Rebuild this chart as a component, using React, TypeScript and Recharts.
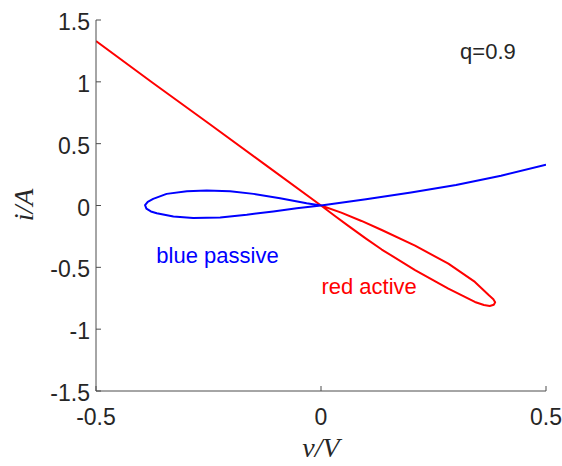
import { LineChart, Line, XAxis, YAxis, ReferenceDot } from "recharts";

// v (V) and i (A) samples, in drawing order
const redV = [-0.5, -0.375, -0.25, -0.125, 0, 0.031, 0.06, 0.1, 0.135, 0.209, 0.283, 0.342, 0.362, 0.375, 0.384, 0.387, 0.383, 0.372, 0.342, 0.283, 0.209, 0.135, 0.09, 0.045, 0];
const redI = [1.33, 0.995, 0.665, 0.333, 0, -0.085, -0.163, -0.268, -0.356, -0.522, -0.672, -0.78, -0.804, -0.812, -0.803, -0.783, -0.758, -0.722, -0.618, -0.47, -0.325, -0.198, -0.125, -0.058, 0];

const blueV = [0.5, 0.4, 0.3, 0.2, 0.1, 0, -0.032, -0.091, -0.15, -0.202, -0.254, -0.298, -0.343, -0.373, -0.385, -0.391, -0.388, -0.378, -0.365, -0.328, -0.284, -0.224, -0.165, -0.106, -0.054, 0];
const blueI = [0.33, 0.24, 0.165, 0.105, 0.05, 0, 0.019, 0.059, 0.094, 0.116, 0.121, 0.116, 0.094, 0.054, 0.03, 0.003, -0.025, -0.048, -0.062, -0.089, -0.102, -0.097, -0.075, -0.048, -0.022, 0];

const xTicks = [-0.5, 0, 0.5];
const yTicks = [-1.5, -1, -0.5, 0, 0.5, 1, 1.5];

const redData = redV.map((v, k) => ({ v, i: redI[k] }));
const blueData = blueV.map((v, k) => ({ v, i: blueI[k] }));

const axisColor = "#4d4d4d";
const textColor = "#262626";
const sans = "'Liberation Sans', Arial, sans-serif";
const serif = "'Liberation Serif', 'Times New Roman', serif";

// MATLAB-style ticks point inward
const BottomTick = (props: any) => (
  <g>
    <line x1={props.x} y1={props.y} x2={props.x} y2={props.y - 5} stroke={axisColor} />
    <text x={props.x} y={props.y + 34} textAnchor="middle" fontSize={23} fontFamily={sans} fill={textColor}>
      {String(props.payload.value)}
    </text>
  </g>
);

const LeftTick = (props: any) => (
  <g>
    <line x1={props.x} y1={props.y} x2={props.x + 5} y2={props.y} stroke={axisColor} />
    <text x={props.x - 6} y={props.y + 10} textAnchor="end" fontSize={23} fontFamily={sans} fill={textColor}>
      {String(props.payload.value)}
    </text>
  </g>
);

const TopTick = (props: any) => (
  <line x1={props.x} y1={props.y} x2={props.x} y2={props.y + 5} stroke={axisColor} />
);

const RightTick = (props: any) => (
  <line x1={props.x} y1={props.y} x2={props.x - 5} y2={props.y} stroke={axisColor} />
);

export default function App() {
  return (
    <div style={{ position: "absolute", left: 0, top: 0, background: "#fff" }}>
      <LineChart width={562} height={466} margin={{ top: 20, right: 16, left: 0, bottom: 0 }}>
        <XAxis
          xAxisId="b"
          dataKey="v"
          type="number"
          domain={[-0.5, 0.5]}
          ticks={xTicks}
          allowDataOverflow
          height={75}
          tickSize={0}
          tickMargin={0}
          tick={<BottomTick />}
          axisLine={{ stroke: axisColor }}
          label={{
            content: () => (
              <text x={321} y={457} textAnchor="middle" fontSize={28} fontStyle="italic" fontFamily={serif} fill={textColor}>
                v/V
              </text>
            ),
          }}
        />
        <XAxis
          xAxisId="t"
          orientation="top"
          dataKey="v"
          type="number"
          domain={[-0.5, 0.5]}
          ticks={xTicks}
          height={0}
          tickSize={0}
          tickMargin={0}
          tick={<TopTick />}
          axisLine={{ stroke: axisColor }}
        />
        <YAxis
          yAxisId="l"
          dataKey="i"
          type="number"
          domain={[-1.5, 1.5]}
          ticks={yTicks}
          allowDataOverflow
          width={96}
          tickSize={0}
          tickMargin={0}
          tick={<LeftTick />}
          axisLine={{ stroke: axisColor }}
          label={{
            content: () => (
              <text
                x={33}
                y={205}
                textAnchor="middle"
                transform="rotate(-90 33 205)"
                fontSize={28}
                fontStyle="italic"
                fontFamily={serif}
                fill={textColor}
              >
                i/A
              </text>
            ),
          }}
        />
        <YAxis
          yAxisId="r"
          orientation="right"
          dataKey="i"
          type="number"
          domain={[-1.5, 1.5]}
          ticks={yTicks}
          width={0}
          tickSize={0}
          tickMargin={0}
          tick={<RightTick />}
          axisLine={{ stroke: axisColor }}
        />
        <Line
          xAxisId="b"
          yAxisId="l"
          data={redData}
          dataKey="i"
          type="linear"
          stroke="#ff0000"
          strokeWidth={2}
          strokeLinejoin="round"
          dot={false}
          isAnimationActive={false}
        />
        <Line
          xAxisId="b"
          yAxisId="l"
          data={blueData}
          dataKey="i"
          type="linear"
          stroke="#0000ff"
          strokeWidth={2}
          strokeLinejoin="round"
          dot={false}
          isAnimationActive={false}
        />
        <ReferenceDot
          xAxisId="b"
          yAxisId="l"
          x={0.371}
          y={1.25}
          r={0}
          fill="none"
          stroke="none"
          label={{ value: "q=0.9", position: "center", fontSize: 22, fill: textColor, fontFamily: sans }}
        />
        <ReferenceDot
          xAxisId="b"
          yAxisId="l"
          x={-0.23}
          y={-0.4}
          r={0}
          fill="none"
          stroke="none"
          label={{ value: "blue passive", position: "center", fontSize: 22, fill: "#0000ff", fontFamily: sans }}
        />
        <ReferenceDot
          xAxisId="b"
          yAxisId="l"
          x={0.107}
          y={-0.65}
          r={0}
          fill="none"
          stroke="none"
          label={{ value: "red active", position: "center", fontSize: 22, fill: "#ff0000", fontFamily: sans }}
        />
      </LineChart>
    </div>
  );
}
